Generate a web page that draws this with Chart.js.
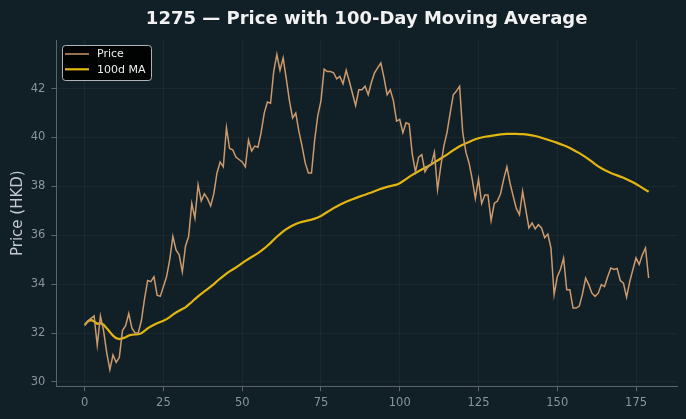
<!DOCTYPE html>
<html>
<head>
<meta charset="utf-8">
<script src="https://cdn.jsdelivr.net/npm/chart.js@4.4.1/dist/chart.umd.min.js"></script>
<style>
  html, body { margin: 0; padding: 0; background: #111f27; }
  canvas { display: block; }
</style>
</head>
<body>
<canvas id="chart" width="686" height="419"></canvas>
<script>
/* data */
const TITLE = '1275 — Price with 100-Day Moving Average';
const Y_LABEL = 'Price (HKD)';
const SERIES_LABELS = ['Price', '100d MA'];

const PRICE = [
  32.3, 32.5, 32.6, 32.7, 31.5, 32.7, 32.1, 31.2, 30.5, 31.1,
  30.8, 31.0, 32.1, 32.3, 32.8, 32.2, 32.0, 32.0, 32.5, 33.4,
  34.15, 34.1, 34.3, 33.55, 33.5, 33.9, 34.3, 35.0, 35.95, 35.4,
  35.2, 34.5, 35.55, 35.95, 37.3, 36.7, 38.07, 37.4, 37.7, 37.5,
  37.2, 37.7, 38.55, 39.0, 38.8, 40.4, 39.55, 39.5, 39.2, 39.1,
  39.0, 38.8, 39.9, 39.45, 39.65, 39.6, 40.2, 41.0, 41.45, 41.4,
  42.7, 43.4, 42.75, 43.25, 42.4, 41.5, 40.8, 41.0, 40.25, 39.65,
  38.96, 38.55, 38.55, 39.9, 40.9, 41.5, 42.8, 42.7, 42.7, 42.65,
  42.4, 42.5, 42.2, 42.75, 42.3, 41.8, 41.3, 41.95, 41.95, 42.1,
  41.75, 42.25, 42.65, 42.85, 43.05, 42.45, 41.75, 41.95, 41.5, 40.67,
  40.74, 40.2, 40.6, 40.55, 39.3, 38.6, 39.2, 39.3, 38.6, 38.8,
  38.9, 39.4, 37.87, 38.8, 39.65, 40.2, 41.0, 41.75, 41.9, 42.1,
  40.2, 39.4, 38.96, 38.3, 37.5, 38.3, 37.3, 37.65, 37.65, 36.6,
  37.3, 37.4, 37.7, 38.3, 38.8, 38.14, 37.6, 37.1, 36.84, 37.8,
  37.05, 36.3, 36.5, 36.26, 36.43, 36.3, 35.9, 36.05, 35.48, 33.57,
  34.3, 34.6, 35.07, 33.77, 33.77, 33.02, 33.02, 33.1, 33.6, 34.25,
  33.98, 33.63, 33.5, 33.63, 33.98, 33.9, 34.3, 34.66, 34.6, 34.64,
  34.15, 34.04, 33.47, 34.1, 34.6, 35.07, 34.8, 35.2, 35.48, 34.25,
];

const MOVING_AVERAGE = [
  32.34, 32.47, 32.54, 32.47, 32.38, 32.4, 32.34, 32.2, 32.04, 31.89,
  31.79, 31.75, 31.78, 31.83, 31.9, 31.93, 31.94, 31.95, 31.99, 32.09,
  32.19, 32.27, 32.34, 32.4, 32.45, 32.5, 32.57, 32.65, 32.75, 32.84,
  32.91, 32.98, 33.05, 33.16, 33.27, 33.39, 33.5, 33.6, 33.7, 33.8,
  33.9, 34.0, 34.12, 34.23, 34.33, 34.43, 34.52, 34.6, 34.68, 34.77,
  34.86, 34.95, 35.03, 35.11, 35.19, 35.27, 35.36, 35.46, 35.57, 35.69,
  35.82, 35.94, 36.05, 36.16, 36.25, 36.33, 36.4, 36.46, 36.51, 36.55,
  36.58, 36.61, 36.64, 36.68, 36.73, 36.79, 36.87, 36.95, 37.03, 37.11,
  37.18, 37.25, 37.31, 37.37, 37.42, 37.47, 37.52, 37.57, 37.62, 37.66,
  37.71, 37.75, 37.8, 37.85, 37.9, 37.94, 37.98, 38.01, 38.04, 38.07,
  38.13, 38.21, 38.3, 38.39, 38.47, 38.55, 38.62, 38.69, 38.76, 38.83,
  38.9, 38.98, 39.06, 39.14, 39.22, 39.3, 39.39, 39.48, 39.56, 39.64,
  39.7, 39.76, 39.82, 39.88, 39.93, 39.97, 40.0, 40.03, 40.05, 40.07,
  40.09, 40.11, 40.13, 40.14, 40.15, 40.15, 40.15, 40.15, 40.14, 40.14,
  40.13, 40.11, 40.09, 40.06, 40.03, 39.99, 39.95, 39.91, 39.87, 39.83,
  39.78, 39.73, 39.68, 39.63, 39.57, 39.5, 39.43, 39.36, 39.28, 39.2,
  39.11, 39.01, 38.91, 38.82, 38.74, 38.67, 38.61, 38.55, 38.5, 38.45,
  38.4, 38.35, 38.29, 38.23, 38.17, 38.1, 38.02, 37.94, 37.86, 37.78,
];

const X_TICKS = [0, 25, 50, 75, 100, 125, 150, 175];
const Y_TICKS = [30, 32, 34, 36, 38, 40, 42];

/* style */
const BACKGROUND = '#111f27';
const PRICE_COLOR = '#cc9a6c';
const MA_COLOR = '#e2b510';
const GRID_COLOR = 'rgba(255, 255, 255, 0.045)';
const SPINE_COLOR = '#5b6468';
const TICK_TEXT_COLOR = '#8a949a';
const FONT = "'DejaVu Sans', sans-serif";

/* utilities */
const toPoints = (values) => values.map((value, index) => ({ x: index, y: value }));

const fixTicks = (values) => (scale) => {
  scale.ticks = values.map((value) => ({ value: value }));
};

/* plugins */
const backgroundPlugin = {
  id: 'background',
  beforeDraw: (chart) => {
    const ctx = chart.ctx;
    ctx.save();
    ctx.fillStyle = BACKGROUND;
    ctx.fillRect(0, 0, chart.width, chart.height);
    ctx.restore();
  },
};

const titlePlugin = {
  id: 'plotTitle',
  afterDraw: (chart) => {
    const ctx = chart.ctx;
    const area = chart.chartArea;
    ctx.save();
    ctx.font = 'bold 18px ' + FONT;
    ctx.fillStyle = '#f2f2f2';
    ctx.textAlign = 'center';
    ctx.textBaseline = 'alphabetic';
    ctx.fillText(TITLE, (area.left + area.right) / 2, 24);
    ctx.restore();
  },
};

const boxLegendPlugin = {
  id: 'boxLegend',
  afterDatasetsDraw: (chart) => {
    const ctx = chart.ctx;
    const left = 62.5;
    const top = 45.5;
    const width = 89;
    const height = 35;
    ctx.save();
    ctx.beginPath();
    ctx.roundRect(left, top, width, height, 3);
    ctx.fillStyle = 'rgba(0, 0, 0, 0.9)';
    ctx.fill();
    ctx.strokeStyle = '#b0b4b6';
    ctx.lineWidth = 1;
    ctx.stroke();

    ctx.font = '11px ' + FONT;
    ctx.textBaseline = 'middle';
    chart.data.datasets.forEach((dataset, index) => {
      const y = 54 + index * 15.3;
      ctx.beginPath();
      ctx.moveTo(65, y);
      ctx.lineTo(89, y);
      ctx.strokeStyle = dataset.borderColor;
      ctx.lineWidth = dataset.borderWidth;
      ctx.stroke();
      ctx.fillStyle = '#eeeeee';
      ctx.fillText(dataset.label, 97, y + 0.5);
    });
    ctx.restore();
  },
};

/* chart */
const createChart = () => {
  const element = document.querySelector('#chart');

  return new Chart(element, {
    type: 'line',
    data: {
      datasets: [
        {
          label: SERIES_LABELS[0],
          data: toPoints(PRICE),
          borderColor: PRICE_COLOR,
          borderWidth: 1.5,
          pointRadius: 0,
          tension: 0,
        },
        {
          label: SERIES_LABELS[1],
          data: toPoints(MOVING_AVERAGE),
          borderColor: MA_COLOR,
          borderWidth: 2.2,
          pointRadius: 0,
          tension: 0,
        },
      ],
    },
    options: {
      responsive: false,
      animation: false,
      devicePixelRatio: 1,
      layout: {
        padding: { top: 40, right: 9, left: 0, bottom: 0 },
      },
      plugins: {
        legend: { display: false },
        title: { display: false },
        tooltip: { enabled: false },
      },
      scales: {
        x: {
          type: 'linear',
          min: -9,
          max: 188,
          afterBuildTicks: fixTicks(X_TICKS),
          afterFit: (scale) => { scale.height = 32.7; },
          border: { display: true, color: SPINE_COLOR, width: 1 },
          grid: {
            color: GRID_COLOR,
            tickColor: SPINE_COLOR,
            tickLength: 5,
            drawTicks: true,
          },
          ticks: {
            color: TICK_TEXT_COLOR,
            font: { family: FONT, size: 11.5 },
            padding: 5,
            maxRotation: 0,
          },
        },
        y: {
          type: 'linear',
          min: 29.82,
          max: 43.99,
          afterBuildTicks: fixTicks(Y_TICKS),
          afterFit: (scale) => { scale.width = 56.3; },
          border: { display: true, color: SPINE_COLOR, width: 1 },
          grid: {
            color: GRID_COLOR,
            tickColor: SPINE_COLOR,
            tickLength: 5,
            drawTicks: true,
          },
          ticks: {
            color: TICK_TEXT_COLOR,
            font: { family: FONT, size: 11.5 },
            padding: 6,
          },
          title: {
            display: true,
            text: Y_LABEL,
            color: '#c3c9cd',
            font: { family: FONT, size: 15 },
            padding: { top: 9, bottom: 0 },
          },
        },
      },
    },
    plugins: [backgroundPlugin, titlePlugin, boxLegendPlugin],
  });
};

document.addEventListener('DOMContentLoaded', () => {
  createChart();
});
</script>
</body>
</html>
